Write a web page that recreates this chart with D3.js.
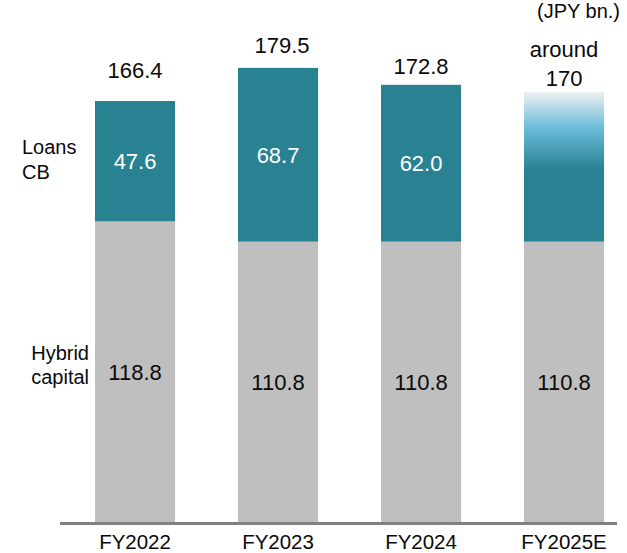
<!DOCTYPE html>
<html>
<head>
<meta charset="utf-8">
<script src="https://cdn.jsdelivr.net/npm/d3@7"></script>
<style>
  html, body { margin: 0; padding: 0; background: #fff; }
  svg { display: block; font-family: "Liberation Sans", Arial, sans-serif; }
</style>
</head>
<body>
<svg id="chart" width="627" height="553"></svg>
<script>
// Funding balance by fiscal year (JPY bn.)
const categories = ["FY2022", "FY2023", "FY2024", "FY2025E"];
const hybridCapital = [118.8, 110.8, 110.8, 110.8];
const loansCB = [47.6, 68.7, 62.0, 59.2];
const totals = [166.4, 179.5, 172.8, 170];
const loanLabels = ["47.6", "68.7", "62.0", ""];
const totalLabels = [["166.4"], ["179.5"], ["172.8"], ["around", "170"]];
const estimateIndex = 3;

const svg = d3.select("#chart");

const TEAL = "#288292";
const GREY = "#bfbfbf";
const INK = "#0a0a0a";

const x = d3.scaleBand()
  .domain(categories)
  .range([95, 604.08])
  .paddingInner(0.44)
  .paddingOuter(0);

const y = d3.scaleLinear()
  .domain([0, 200])
  .range([522, 16]);

// gradient for the estimated loans segment
const defs = svg.append("defs");
const grad = defs.append("linearGradient")
  .attr("id", "estGrad")
  .attr("x1", 0).attr("y1", 0).attr("x2", 0).attr("y2", 1);
grad.append("stop").attr("offset", "0%").attr("stop-color", "#eef1f2");
grad.append("stop").attr("offset", "24%").attr("stop-color", "#6cbcd9");
grad.append("stop").attr("offset", "52%").attr("stop-color", TEAL);
grad.append("stop").attr("offset", "100%").attr("stop-color", TEAL);

const rows = categories.map((c, i) => ({
  cat: c, hybrid: hybridCapital[i], loans: loansCB[i], total: totals[i], i
}));
const cx = d => x(d.cat) + x.bandwidth() / 2;

// hybrid capital segments
svg.append("g").selectAll("rect")
  .data(rows).join("rect")
  .attr("x", d => x(d.cat))
  .attr("width", x.bandwidth())
  .attr("y", d => y(d.hybrid))
  .attr("height", d => y(0) - y(d.hybrid))
  .attr("fill", GREY);

// loans / CB segments
svg.append("g").selectAll("rect")
  .data(rows).join("rect")
  .attr("x", d => x(d.cat))
  .attr("width", x.bandwidth())
  .attr("y", d => y(d.hybrid + d.loans))
  .attr("height", d => y(d.hybrid) - y(d.hybrid + d.loans))
  .attr("fill", d => d.i === estimateIndex ? "url(#estGrad)" : TEAL);

// baseline
svg.append("line")
  .attr("x1", 60).attr("x2", 617)
  .attr("y1", y(0) + 1.5).attr("y2", y(0) + 1.5)
  .attr("stroke", "#808080")
  .attr("stroke-width", 3);

// category labels
svg.append("g").selectAll("text")
  .data(rows).join("text")
  .attr("x", cx)
  .attr("y", 549)
  .attr("text-anchor", "middle")
  .attr("font-size", 20.5)
  .attr("fill", INK)
  .text(d => d.cat);

// hybrid values
svg.append("g").selectAll("text")
  .data(rows).join("text")
  .attr("x", cx)
  .attr("y", d => (y(0) + y(d.hybrid)) / 2 + 8)
  .attr("text-anchor", "middle")
  .attr("font-size", 22)
  .attr("fill", INK)
  .text(d => d.hybrid.toFixed(1));

// loans values
svg.append("g").selectAll("text")
  .data(rows.filter(d => loanLabels[d.i] !== "")).join("text")
  .attr("x", cx)
  .attr("y", d => (y(d.hybrid) + y(d.hybrid + d.loans)) / 2 + 8)
  .attr("text-anchor", "middle")
  .attr("font-size", 22)
  .attr("fill", "#fff")
  .text(d => loanLabels[d.i]);

// totals above each bar
const totalGap = [23, 15, 11, 6];
const totalG = svg.append("g");
rows.forEach(d => {
  const lines = totalLabels[d.i];
  const base = y(d.total) - totalGap[d.i];
  const t = totalG.append("text")
    .attr("text-anchor", "middle")
    .attr("font-size", 22)
    .attr("fill", INK);
  lines.forEach((s, k) => {
    t.append("tspan")
      .attr("x", cx(d) + (d.i === 1 ? 4 : 0))
      .attr("y", base - (lines.length - 1 - k) * 29)
      .text(s);
  });
});

// series names
const loansName = svg.append("text")
  .attr("font-size", 20).attr("fill", INK);
loansName.append("tspan").attr("x", 22).attr("y", 154).text("Loans");
loansName.append("tspan").attr("x", 22).attr("y", 179).text("CB");

const hybridName = svg.append("text")
  .attr("font-size", 20).attr("fill", INK).attr("text-anchor", "end");
hybridName.append("tspan").attr("x", 89).attr("y", 360).text("Hybrid");
hybridName.append("tspan").attr("x", 89).attr("y", 384).text("capital");

// unit
svg.append("text")
  .attr("x", 620).attr("y", 18)
  .attr("text-anchor", "end")
  .attr("font-size", 20)
  .attr("fill", INK)
  .text("(JPY bn.)");
</script>
</body>
</html>
